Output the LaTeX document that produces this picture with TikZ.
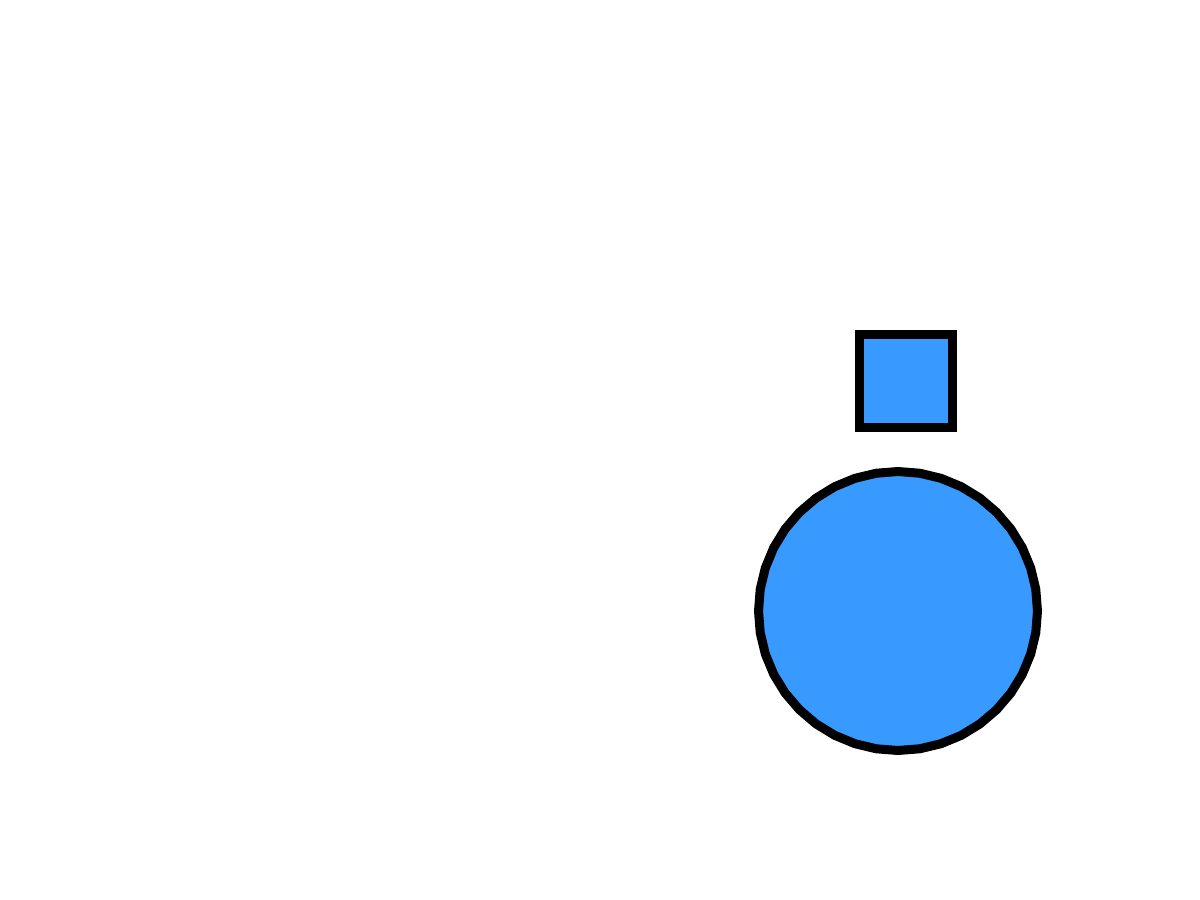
\documentclass[tikz,border=0pt]{standalone}
\usetikzlibrary{shapes.geometric}
\definecolor{fillblue}{HTML}{3899FF}
\tikzset{
  shapebox/.style={draw=black, fill=fillblue, line width=9pt, inner sep=0pt, outer sep=0pt},
}
\begin{document}
\begin{tikzpicture}[x=1pt, y=-1pt]
  \useasboundingbox (0,0) rectangle (1200,900);
  \node[shapebox, rectangle, minimum size=93pt] (sq) at (906,381) {};
  \node[shapebox, regular polygon, regular polygon sides=40, minimum size=279pt, rotate=4.5] (ci) at (898,611) {};
\end{tikzpicture}
\end{document}
